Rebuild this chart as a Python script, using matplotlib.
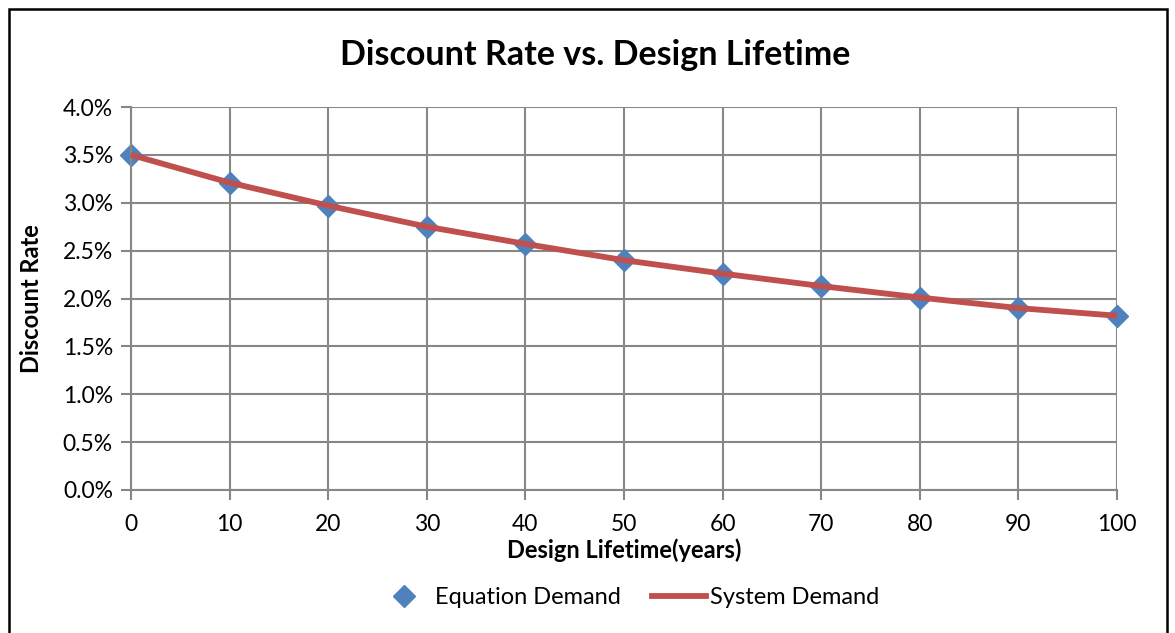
import matplotlib
matplotlib.use("Agg")
import matplotlib.pyplot as plt
from matplotlib.patches import Rectangle
from matplotlib.lines import Line2D
from matplotlib.ticker import FuncFormatter, MultipleLocator

lifetime = [0, 10, 20, 30, 40, 50, 60, 70, 80, 90, 100]
equation_demand = [0.0350, 0.0321, 0.0297, 0.0275, 0.0257, 0.0240, 0.0226, 0.0213, 0.0201, 0.0190, 0.0182]
system_demand = [0.0350, 0.0321, 0.0297, 0.0275, 0.0257, 0.0240, 0.0226, 0.0213, 0.0201, 0.0190, 0.0182]

plt.rcParams['font.family'] = ['Lato', 'DejaVu Sans']

W, H = 1175, 633
fig = plt.figure(figsize=(W / 100, H / 100), dpi=100)
ax = fig.add_axes([131 / W, 1 - 490 / H, (1117 - 131) / W, (490 - 107) / H])

grid_c = '#878787'
ax.plot(lifetime, system_demand, color='#C0504D', lw=4.2, zorder=3, solid_capstyle='butt', clip_on=False)
ax.plot(lifetime, equation_demand, linestyle='none', marker='D', markersize=11,
        color='#4F81BD', zorder=2, clip_on=False)

ax.set_xlim(0, 100)
ax.set_ylim(0, 0.04)
ax.xaxis.set_major_locator(MultipleLocator(10))
ax.yaxis.set_major_locator(MultipleLocator(0.005))
ax.yaxis.set_major_formatter(FuncFormatter(lambda v, p: f"{v*100:.1f}%"))
ax.grid(True, color=grid_c, lw=1.5)
ax.set_axisbelow(True)
for s in ['top', 'right']:
    ax.spines[s].set_visible(False)
for s in ['left', 'bottom']:
    ax.spines[s].set_color(grid_c)
    ax.spines[s].set_linewidth(1.5)
ax.tick_params(axis='both', colors=grid_c, length=7, width=1.5, labelsize=16.5, labelcolor='black')
ax.tick_params(axis='x', pad=10)
ax.tick_params(axis='y', pad=6)

ax.set_xlabel('Design Lifetime(years)', fontsize=17, fontweight='bold', labelpad=3)
ax.set_ylabel('Discount Rate', fontsize=17, fontweight='bold', labelpad=14)
fig.text(595 / W, 1 - 55 / H, 'Discount Rate vs. Design Lifetime', ha='center', va='center',
         fontsize=24.5, fontweight='bold')

handles = [Line2D([], [], linestyle='none', marker='D', markersize=11, color='#4F81BD'),
           Line2D([], [], color='#C0504D', lw=4.2)]
leg = fig.legend(handles, ['Equation Demand', 'System Demand'], loc='center',
                 bbox_to_anchor=(628 / W, 1 - 598 / H), ncol=2, frameon=False, fontsize=17,
                 handlelength=2.3, columnspacing=1.3, handletextpad=0.15)

fig.patches.append(Rectangle((9 / W, -0.05), (1167 - 9) / W, 1.05 - 9 / H,
                             transform=fig.transFigure, fill=False, edgecolor='black', lw=1.8))

fig.savefig('out.png', dpi=100, facecolor='white')
